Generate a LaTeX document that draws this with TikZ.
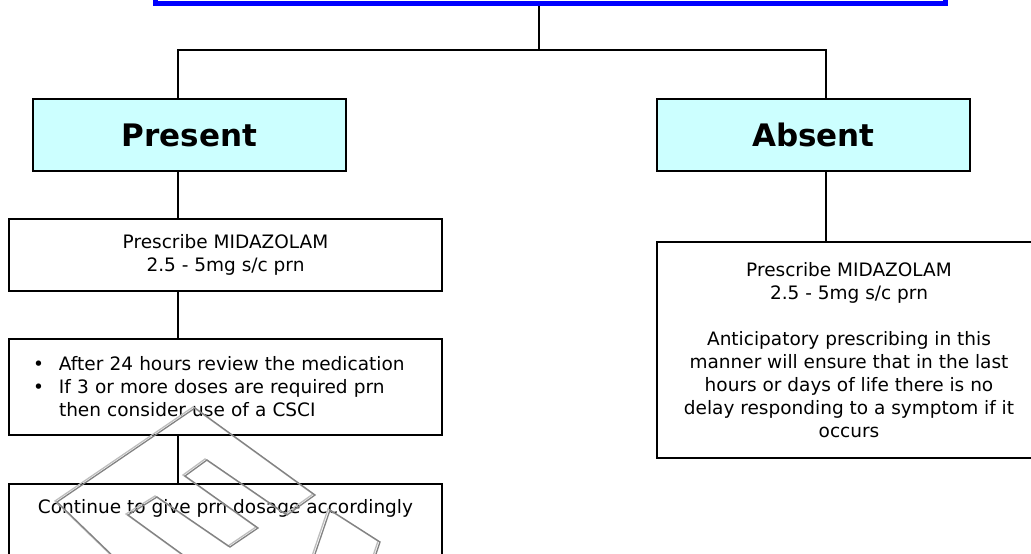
\documentclass[tikz,border=0pt]{standalone}
\usepackage{fontspec}
\setmainfont{DejaVu Sans}
\usetikzlibrary{positioning}
\definecolor{headblue}{RGB}{0,0,255}
\definecolor{paleaqua}{RGB}{204,255,255}
\definecolor{markdark}{RGB}{130,130,130}
\definecolor{marklight}{RGB}{190,190,190}
\begin{document}
\begin{tikzpicture}[x=1pt,y=-1pt,
  box/.style={draw=black,line width=2pt,fill=white,inner sep=0pt,
    font=\fontsize{18.5}{23}\selectfont,align=center},
  answer/.style={box,fill=paleaqua,minimum width=313pt,minimum height=72pt,
    font=\fontsize{31}{36}\selectfont\bfseries},
  link/.style={draw=black,line width=2pt},
  wline/.style={line width=1.3pt,line join=miter}]
\useasboundingbox (0,0) rectangle (1031,554);
\clip (0,0) rectangle (1031,554);
% heading box, only its lower edge is in view
\node[draw=headblue,line width=5pt,minimum width=790pt,minimum height=80pt,inner sep=0pt] (title) at (550,-37) {};
\node[answer] (present) at (189.5,135) {Present};
\node[answer] (absent) at (813.5,135) {Absent};
\node[box,minimum width=433pt,minimum height=72pt] (prescl) at (225.5,255) {Prescribe MIDAZOLAM\\2.5 - 5mg s/c prn};
\node[box,minimum width=433pt,minimum height=96pt,text width=385pt,align=left] (review) at (225.5,387)
  {\makebox[26pt][l]{\textbullet}After 24 hours review the medication\\
   \makebox[26pt][l]{\textbullet}If 3 or more doses are required prn\\
   \hspace*{26pt}then consider use of a CSCI};
\node[box,minimum width=433pt,anchor=north,inner ysep=15pt] (cont) at (225.5,483)
  {Continue to give prn dosage accordingly\\\mbox{}\\\mbox{}\\\mbox{}};
\node[box,minimum width=384pt,minimum height=216pt] (prescr) at (849,350)
  {Prescribe MIDAZOLAM\\2.5 - 5mg s/c prn\\[23pt]
   Anticipatory prescribing in this\\manner will ensure that in the last\\
   hours or days of life there is no\\delay responding to a symptom if it\\occurs};
% connectors
\coordinate (split) at (539,50);
\coordinate (lx) at (178,50);
\coordinate (rx) at (826,50);
\draw[link] (title.south -| split) -- (split);
\draw[link] (present.north -| lx) |- (rx) -- (absent.north -| rx);
\draw[link] (present.south -| lx) -- (prescl.north -| lx);
\draw[link] (prescl.south -| lx) -- (review.north -| lx);
\draw[link] (review.south -| lx) -- (cont.north -| lx);
\draw[link] (absent.south -| rx) -- (prescr.north -| rx);
% watermark outline
\foreach \dx/\dy/\col in {-2/-1/marklight,0/0/markdark} {
  \begin{scope}[shift={(\dx,\dy)}]
  \draw[wline,\col] (117,560)--(57,502)--(195,408)--(315,495)--(287,515)--(207,460)--(185,476)
    --(258,528)--(230,547)--(157,497)--(128,515)--(190,560);
  \draw[wline,\col] (313,560)--(330,510)--(380,542)--(374,560);
  \end{scope}
}
\end{tikzpicture}
\end{document}
